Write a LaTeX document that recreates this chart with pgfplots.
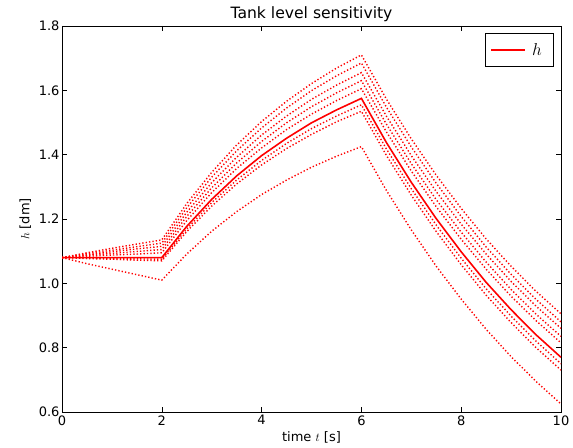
\documentclass[border=0pt]{standalone}
\usepackage{fontspec}
\setmainfont{DejaVu Sans}
\usepackage{pgfplots}
\pgfplotsset{compat=1.18}
\usepackage{pgfplotstable}

% t, nominal h, and eight perturbed runs
\pgfplotstableread{
t    h      p1     p2     p3     p4     p5     p6     p7     p8
0.0  1.080  1.080  1.080  1.080  1.080  1.080  1.080  1.080  1.080
0.5  1.080  1.095  1.092  1.089  1.087  1.084  1.079  1.077  1.061
1.0  1.080  1.109  1.103  1.098  1.093  1.088  1.077  1.075  1.044
1.5  1.080  1.122  1.114  1.107  1.099  1.091  1.076  1.072  1.027
2.0  1.080  1.135  1.125  1.115  1.105  1.095  1.075  1.070  1.010
2.5  1.177  1.248  1.235  1.221  1.208  1.195  1.169  1.161  1.091
3.0  1.261  1.345  1.330  1.313  1.297  1.282  1.251  1.240  1.162
3.5  1.334  1.430  1.412  1.392  1.374  1.357  1.321  1.309  1.223
4.0  1.397  1.503  1.483  1.461  1.441  1.421  1.382  1.368  1.276
4.5  1.451  1.566  1.545  1.520  1.499  1.478  1.435  1.419  1.321
5.0  1.499  1.621  1.599  1.572  1.549  1.526  1.481  1.463  1.361
5.5  1.539  1.669  1.645  1.616  1.592  1.568  1.520  1.502  1.395
6.0  1.575  1.710  1.685  1.655  1.630  1.605  1.555  1.535  1.425
6.5  1.438  1.573  1.548  1.520  1.495  1.471  1.418  1.398  1.289
7.0  1.314  1.449  1.424  1.397  1.372  1.349  1.294  1.274  1.166
7.5  1.201  1.336  1.311  1.285  1.260  1.238  1.181  1.161  1.053
8.0  1.098  1.233  1.208  1.184  1.159  1.137  1.078  1.058  0.951
8.5  1.003  1.138  1.113  1.091  1.066  1.044  0.983  0.963  0.857
9.0  0.918  1.053  1.028  1.006  0.981  0.960  0.898  0.878  0.772
9.5  0.840  0.975  0.950  0.929  0.904  0.884  0.820  0.800  0.695
10.0 0.770  0.905  0.880  0.860  0.835  0.815  0.750  0.730  0.625
}\tankdata

\pgfplotsset{
  sens/.style={red, line width=1.4bp, dash pattern=on 1.3bp off 2.1bp, forget plot},
}
\newcommand{\fs}[1]{\fontsize{#1}{1.2\dimexpr#1\relax}\selectfont}

\begin{document}%
\begin{tikzpicture}[font=\fs{13bp}]
\begin{axis}[
  scale only axis, width=499bp, height=386bp,
  xmin=0, xmax=10, ymin=0.6, ymax=1.8,
  xtick={0,2,...,10}, ytick={0.6,0.8,...,1.8},
  /pgf/number format/assume math mode=true,
  yticklabel style={xshift=1bp, /pgf/number format/.cd, fixed, fixed zerofill, precision=1},
  tick align=inside, major tick length=5bp,
  tick style={black, line width=0.6bp},
  axis line style={black, line width=0.8bp},
  tick label style={font=\fs{13bp}},
  title={Tank level sensitivity},
  title style={font=\fs{15.6bp}, yshift=-5bp},
  xlabel={time $t$ [s]}, ylabel={$h$ [dm]},
  label style={font=\fs{13bp}},
  xlabel style={yshift=1bp}, ylabel style={yshift=1bp},
  legend style={at={(1,1)}, anchor=north east, xshift=-8bp, yshift=-7bp,
    draw=black, inner xsep=5bp, inner ysep=6bp, font=\fs{16bp},
    nodes={inner xsep=6bp, inner ysep=4bp}},
  legend image code/.code={\draw[red, line width=1.6bp] (6bp,0bp) -- (31bp,0bp);
    \path (0bp,0bp) -- (34bp,0bp);},
]
\addplot[sens] table[x=t, y=p1] {\tankdata};
\addplot[sens] table[x=t, y=p2] {\tankdata};
\addplot[sens] table[x=t, y=p3] {\tankdata};
\addplot[sens] table[x=t, y=p4] {\tankdata};
\addplot[sens] table[x=t, y=p5] {\tankdata};
\addplot[sens] table[x=t, y=p6] {\tankdata};
\addplot[sens] table[x=t, y=p7] {\tankdata};
\addplot[sens] table[x=t, y=p8] {\tankdata};
\addplot[red, line width=1.6bp] table[x=t, y=h] {\tankdata};
\addlegendentry{$h$}
\end{axis}
\pgfresetboundingbox
\useasboundingbox (-62bp,-36bp) rectangle (511bp,412bp);
\end{tikzpicture}%
\end{document}
